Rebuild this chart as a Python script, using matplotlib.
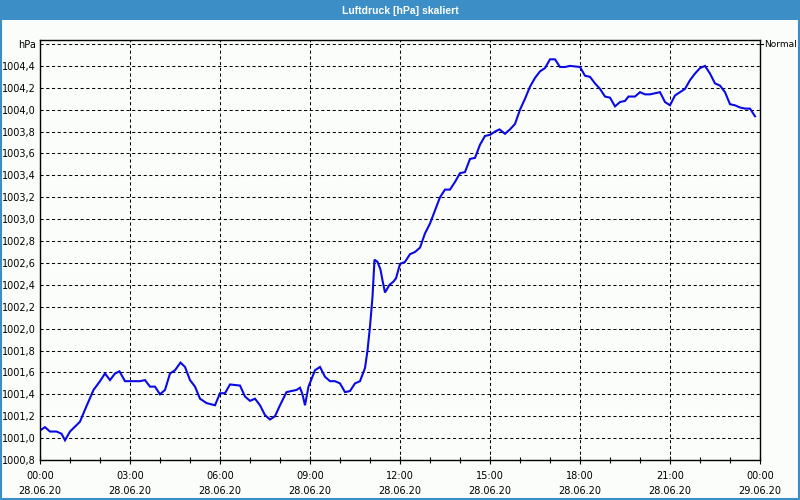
import numpy as np
import matplotlib.pyplot as plt
from matplotlib.patches import Rectangle

# pressure readings 28.06.20
times = ["00:00", "00:10", "00:20", "00:33", "00:43", "00:50", "01:00", "01:20", "01:30", "01:47",
         "02:00", "02:10", "02:20", "02:30", "02:39", "02:50", "03:20", "03:30", "03:40", "03:50",
         "04:00", "04:10", "04:20", "04:30", "04:41", "04:50", "05:00", "05:10", "05:20", "05:33",
         "05:50", "06:00", "06:10", "06:20", "06:40", "06:50", "07:00", "07:10", "07:20", "07:30",
         "07:40", "07:50", "08:00", "08:13", "08:33", "08:40", "08:45", "08:50", "08:57", "09:10",
         "09:20", "09:30", "09:40", "09:50", "10:00", "10:10", "10:20", "10:30", "10:40", "10:50",
         "10:55", "11:00", "11:05", "11:09", "11:15", "11:21", "11:25", "11:30", "11:39", "11:47",
         "11:52", "12:00", "12:10", "12:20", "12:30", "12:40", "12:50", "13:00", "13:10", "13:20",
         "13:30", "13:40", "13:50", "14:00", "14:10", "14:20", "14:30", "14:40", "14:50", "15:00",
         "15:10", "15:19", "15:30", "15:40", "15:50", "16:00", "16:10", "16:20", "16:30", "16:40",
         "16:50", "17:00", "17:10", "17:20", "17:30", "17:40", "18:00", "18:10", "18:20", "18:30",
         "18:40", "18:50", "19:00", "19:10", "19:20", "19:30", "19:37", "19:50", "20:00", "20:10",
         "20:20", "20:30", "20:40", "20:50", "21:00", "21:10", "21:20", "21:30", "21:40", "21:50",
         "22:00", "22:10", "22:20", "22:30", "22:40", "22:50", "23:00", "23:10", "23:20", "23:30",
         "23:40", "23:50"]
pressure = [1001.07, 1001.10, 1001.06, 1001.06, 1001.04, 1000.98, 1001.06, 1001.15, 1001.26, 1001.44,
            1001.52, 1001.59, 1001.53, 1001.59, 1001.61, 1001.52, 1001.52, 1001.53, 1001.47, 1001.47,
            1001.40, 1001.44, 1001.59, 1001.62, 1001.69, 1001.65, 1001.53, 1001.47, 1001.36, 1001.32,
            1001.30, 1001.41, 1001.41, 1001.49, 1001.48, 1001.38, 1001.34, 1001.36, 1001.30, 1001.21,
            1001.17, 1001.20, 1001.30, 1001.42, 1001.44, 1001.46, 1001.40, 1001.30, 1001.47, 1001.62,
            1001.65, 1001.56, 1001.52, 1001.52, 1001.50, 1001.42, 1001.43, 1001.50, 1001.52, 1001.64,
            1001.80, 1002.02, 1002.29, 1002.63, 1002.61, 1002.54, 1002.44, 1002.33, 1002.40, 1002.43,
            1002.46, 1002.59, 1002.61, 1002.68, 1002.70, 1002.74, 1002.87, 1002.96, 1003.08, 1003.20,
            1003.27, 1003.27, 1003.34, 1003.42, 1003.43, 1003.55, 1003.56, 1003.68, 1003.76, 1003.77,
            1003.80, 1003.82, 1003.78, 1003.82, 1003.87, 1004.00, 1004.10, 1004.21, 1004.29, 1004.35,
            1004.38, 1004.46, 1004.46, 1004.39, 1004.39, 1004.40, 1004.39, 1004.31, 1004.30, 1004.24,
            1004.19, 1004.12, 1004.11, 1004.03, 1004.07, 1004.08, 1004.12, 1004.12, 1004.16, 1004.14,
            1004.14, 1004.15, 1004.16, 1004.07, 1004.04, 1004.13, 1004.16, 1004.19, 1004.27, 1004.33,
            1004.38, 1004.40, 1004.33, 1004.24, 1004.22, 1004.16, 1004.05, 1004.04, 1004.02, 1004.01,
            1004.01, 1003.94]

xtick_hours = [0, 3, 6, 9, 12, 15, 18, 21, 24]
xtick_labels = ["00:00\n28.06.20", "03:00\n28.06.20", "06:00\n28.06.20", "09:00\n28.06.20",
                "12:00\n28.06.20", "15:00\n28.06.20", "18:00\n28.06.20", "21:00\n28.06.20",
                "00:00\n29.06.20"]
yticks = np.round(np.arange(1000.8, 1004.61, 0.2), 1)

title = "Luftdruck [hPa] skaliert"
bg = "#fbfdfb"
frame_blue = "#3b8fc6"

hours = [int(t[:2]) + int(t[3:]) / 60 for t in times]

fig = plt.figure(figsize=(8, 5), dpi=100, facecolor=bg)
ax = fig.add_axes([0.05, 0.08, 0.90, 0.84])
ax.set_facecolor(bg)

ax.plot(hours, pressure, color="#0a0ae6", lw=1.5, solid_joinstyle="miter")

ax.set_xlim(0, 24)
ax.set_ylim(1000.8, 1004.6 + 4 / 109.47)

ax.set_xticks(xtick_hours)
ax.set_xticklabels(xtick_labels, fontsize=7, linespacing=1.55)
ax.set_xticks(np.arange(0, 25, 1), minor=True)
ax.tick_params(axis="x", which="major", direction="inout", length=6, width=0.8, pad=5)
ax.tick_params(axis="x", which="minor", direction="inout", length=4, width=0.8)

ylabels = [f"{v:.1f}".replace(".", ",") for v in yticks]
ylabels[-1] = "hPa"
ax.set_yticks(yticks)
ax.set_yticklabels(ylabels, fontsize=7)
ax.tick_params(axis="y", length=0, pad=3)

ax.grid(True, which="major", color="black", linestyle=(0, (3, 2.5)), linewidth=0.75)

for s in ax.spines.values():
    s.set_color("black")
    s.set_linewidth(1.0)

# right side "Normal" marker
ax.annotate("Normal", xy=(1, 1004.6), xycoords=("axes fraction", "data"),
            xytext=(3, 0), textcoords="offset points", fontsize=6.5, va="center", ha="left")
ax.plot([1, 1.004], [1004.6, 1004.6], transform=ax.get_yaxis_transform(),
        color="black", lw=0.8, clip_on=False)

# title bar and window frame
fig.patches.append(Rectangle((0, 0.96), 1, 0.04, transform=fig.transFigure,
                             facecolor=frame_blue, edgecolor="none", zorder=0))
fig.patches.append(Rectangle((0.001, 0.002), 0.998, 0.997, transform=fig.transFigure,
                             facecolor="none", edgecolor=frame_blue, lw=1.5, zorder=5))
fig.text(0.5, 0.979, title, color="white", fontsize=7.5, fontweight="bold",
         family="Liberation Sans", ha="center", va="center")

fig.savefig("out.png", dpi=100, facecolor=bg)
